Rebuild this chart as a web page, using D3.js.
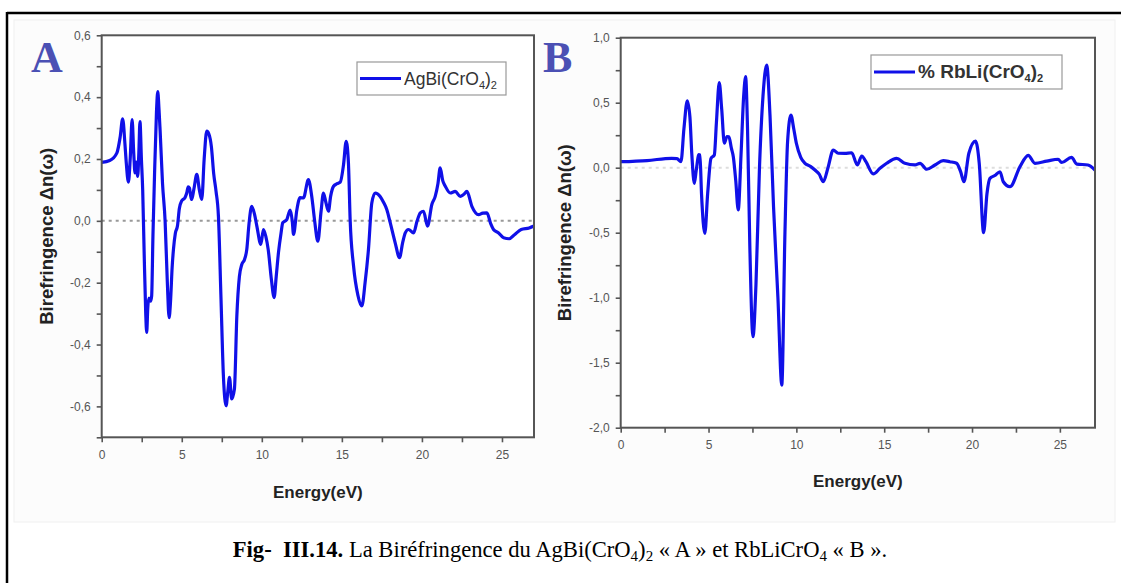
<!DOCTYPE html>
<html><head><meta charset="utf-8">
<script src="https://cdn.jsdelivr.net/npm/d3@7"></script>
<style>body{margin:0;background:#fff}svg{display:block}</style>
</head><body><svg id="c" width="1121" height="583"></svg>
<script>
// ---- data ----
const energyA = [0,0.5,0.95,1.15,1.31,1.45,1.52,1.67,1.78,1.9,2.0,2.08,2.15,2.25,2.32,2.39,2.48,2.56,2.65,2.75,2.81,2.88,2.95,3.05,3.12,3.2,3.3,3.42,3.5,3.58,3.65,3.8,3.96,4.1,4.21,4.3,4.4,4.48,4.6,4.73,4.85,5.0,5.2,5.31,5.4,5.48,5.56,5.62,5.75,5.94,6.1,6.25,6.4,6.56,6.7,6.85,7.0,7.14,7.29,7.45,7.6,7.77,7.88,7.98,8.12,8.29,8.44,8.6,8.75,8.92,9.06,9.2,9.37,9.55,9.69,9.94,10.1,10.25,10.4,10.6,10.77,10.9,11.04,11.2,11.31,11.56,11.77,11.9,11.98,12.19,12.39,12.6,12.91,13.12,13.3,13.5,13.7,13.85,14.0,14.16,14.3,14.48,14.7,14.9,15.1,15.27,15.41,15.52,15.73,16.0,16.25,16.45,16.66,16.87,17.08,17.39,17.6,17.81,18.02,18.33,18.6,18.8,18.96,19.16,19.48,19.7,19.9,20.1,20.35,20.62,20.83,21.0,21.14,21.3,21.46,21.77,22.08,22.39,22.6,22.81,23.12,23.54,23.8,24.06,24.3,24.47,24.79,25.1,25.45,25.8,26.2,26.7,27.0];
const biref_AgBiCrO4 = [0.189,0.195,0.22,0.27,0.33,0.25,0.198,0.125,0.2,0.327,0.22,0.155,0.19,0.144,0.22,0.321,0.2,0.1,-0.1,-0.3,-0.361,-0.28,-0.25,-0.26,-0.243,-0.05,0.15,0.35,0.418,0.36,0.29,0.12,0.0,-0.2,-0.313,-0.26,-0.15,-0.093,-0.04,-0.017,0.04,0.065,0.075,0.09,0.11,0.106,0.08,0.069,0.1,0.15,0.1,0.069,0.2,0.29,0.28,0.24,0.15,0.096,0.015,-0.25,-0.5,-0.598,-0.55,-0.506,-0.576,-0.544,-0.308,-0.18,-0.141,-0.125,-0.093,-0.01,0.047,0.02,-0.017,-0.076,-0.028,-0.05,-0.093,-0.19,-0.248,-0.18,-0.103,-0.04,-0.006,0.004,0.035,0.0,-0.044,0.036,0.075,0.074,0.133,0.079,0.0,-0.066,0.03,0.09,0.06,0.031,0.08,0.112,0.12,0.125,0.18,0.257,0.187,0.0,-0.146,-0.24,-0.275,-0.2,-0.093,0.058,0.09,0.079,0.06,0.036,-0.006,-0.071,-0.119,-0.07,-0.039,-0.028,-0.039,0.0,0.026,0.031,-0.017,0.053,0.079,0.12,0.171,0.13,0.112,0.09,0.095,0.079,0.085,0.095,0.047,0.02,0.025,0.026,-0.01,-0.028,-0.039,-0.055,-0.058,-0.044,-0.028,-0.023,-0.017];

const energyB = [0,1.5,2.9,3.2,3.43,3.6,3.79,3.94,4.05,4.19,4.3,4.45,4.51,4.6,4.79,4.95,5.14,5.33,5.45,5.61,5.75,5.9,6.05,6.16,6.3,6.41,6.55,6.69,6.85,7.0,7.11,7.22,7.35,7.53,7.7,7.9,8.1,8.31,8.5,8.7,8.95,9.17,9.35,9.5,9.69,9.85,10.0,10.25,10.49,10.8,11.06,11.3,11.53,11.8,12.1,12.38,12.75,13.15,13.47,13.72,13.96,14.38,14.76,15.14,15.71,16.18,16.75,17.04,17.42,17.89,18.36,18.74,19.12,19.35,19.54,19.82,20.2,20.41,20.66,20.85,21.02,21.3,21.59,21.78,22.16,22.73,23.2,23.58,24.25,24.9,25.1,25.66,25.97,26.6,27.0];
const biref_RbLiCrO4 = [0.046,0.055,0.072,0.07,0.046,0.3,0.515,0.39,0.1,-0.12,-0.02,0.1,0.098,-0.2,-0.505,-0.2,0.072,0.098,0.35,0.654,0.45,0.188,0.24,0.238,0.15,0.085,-0.1,-0.325,0.1,0.55,0.7,0.3,-0.6,-1.3,-0.9,0.0,0.55,0.79,0.4,-0.3,-1.0,-1.672,-0.5,0.2,0.405,0.3,0.188,0.08,0.034,0.01,-0.018,-0.05,-0.108,0.0,0.136,0.111,0.11,0.115,0.021,0.09,0.046,-0.048,-0.005,0.034,0.072,0.034,0.021,0.034,-0.012,0.021,0.054,0.046,0.034,-0.03,-0.108,0.111,0.205,0.034,-0.5,-0.2,-0.082,-0.06,-0.031,-0.108,-0.146,0.008,0.095,0.034,0.05,0.065,0.04,0.08,0.028,0.021,-0.018];

const xTicksMajor = [0,5,10,15,20,25];
const xTicksMinor = [2.5,7.5,12.5,17.5,22.5];
const yTicksMajorA = [-0.6,-0.4,-0.2,0.0,0.2,0.4,0.6];
const yTicksMinorA = [-0.7,-0.5,-0.3,-0.1,0.1,0.3,0.5];
const yTicksMajorB = [-2.0,-1.5,-1.0,-0.5,0.0,0.5,1.0];
const yTicksMinorB = [-1.75,-1.25,-0.75,-0.25,0.25,0.75];
const legendA = "AgBi(CrO4)2";
const legendB = "% RbLi(CrO4)2";
const xTitle = "Energy(eV)";
const yTitle = "Birefringence Δn(ω)";

// ---- drawing ----
const svg = d3.select("#c");
const lineColor = "#1010e8";
const axisColor = "#555";

// page frame
svg.append("rect").attr("x",14).attr("y",20).attr("width",1101).attr("height",502)
  .attr("fill","#fcfcfc").attr("stroke","#f0f0f0");
svg.append("line").attr("x1",7).attr("x2",1121).attr("y1",13).attr("y2",13).attr("stroke","#000").attr("stroke-width",2.5);
svg.append("line").attr("x1",7).attr("x2",7).attr("y1",12).attr("y2",583).attr("stroke","#000").attr("stroke-width",2.5);

const comma = f => v => f(v).replace(".", ",").replace("\u2212", "-");

function panel(cfg){
  const g = svg.append("g");
  const x = d3.scaleLinear().domain([0,27]).range([cfg.left, cfg.right]);
  const y = d3.scaleLinear().domain(cfg.yDomain).range([cfg.bottom, cfg.top]);
  g.append("rect").attr("x",cfg.left).attr("y",cfg.top).attr("width",cfg.right-cfg.left).attr("height",cfg.bottom-cfg.top).attr("fill","#fff");
  // zero line
  g.append("line").attr("x1",cfg.left).attr("x2",cfg.right).attr("y1",y(0)).attr("y2",y(0))
    .attr("stroke",cfg.zeroColor).attr("stroke-width",2).attr("stroke-dasharray","3,4");
  // line
  const data = cfg.xs.map((e,i)=>[e,cfg.ys[i]]);
  g.append("path").datum(data).attr("fill","none").attr("stroke",lineColor).attr("stroke-width",3.2)
    .attr("stroke-linejoin","round")
    .attr("d", d3.line().x(d=>x(d[0])).y(d=>y(d[1])).curve(d3.curveMonotoneX));
  // axes
  const xa = g.append("g").attr("transform",`translate(0,${cfg.bottom})`)
    .call(d3.axisBottom(x).tickValues(xTicksMajor.concat(xTicksMinor)).tickSize(5).tickPadding(8)
      .tickFormat(v => xTicksMajor.includes(v) ? d3.format("d")(v) : ""));
  const ya = g.append("g").attr("transform",`translate(${cfg.left},0)`)
    .call(d3.axisLeft(y).tickValues(cfg.yMajor.concat(cfg.yMinor)).tickSize(5).tickPadding(6)
      .tickFormat(v => cfg.yMajor.some(m=>Math.abs(m-v)<1e-9) ? comma(d3.format(".1f"))(v) : ""));
  [xa,ya].forEach(a=>{
    a.select(".domain").remove();
    a.selectAll("line").attr("stroke",axisColor).attr("stroke-width",1.6);
    a.selectAll("text").attr("fill","#555").style("font-family","Arial, 'Liberation Sans', sans-serif").style("font-size","12px");
  });
  // frame
  g.append("rect").attr("x",cfg.left).attr("y",cfg.top).attr("width",cfg.right-cfg.left).attr("height",cfg.bottom-cfg.top)
    .attr("fill","none").attr("stroke",axisColor).attr("stroke-width",2);
  // titles
  g.append("text").attr("x",(cfg.left+cfg.right)/2).attr("y",cfg.xTitleY).attr("text-anchor","middle")
    .style("font-family","Arial, 'Liberation Sans', sans-serif").style("font-weight","bold").style("font-size","17px").attr("fill","#222")
    .text(xTitle);
  g.append("text").attr("transform",`translate(${cfg.yTitleX},${(cfg.top+cfg.bottom)/2}) rotate(-90)`).attr("text-anchor","middle")
    .style("font-family","Arial, 'Liberation Sans', sans-serif").style("font-weight","bold").style("font-size","18.5px").attr("fill","#222")
    .text(yTitle);
  // panel letter
  g.append("text").attr("x",cfg.letterX).attr("y",72).style("font-family","'Liberation Serif', 'Times New Roman', serif")
    .style("font-size","44px").style("font-weight","bold").attr("fill","#4b50b4").text(cfg.letter);
  // legend
  const L = cfg.legend;
  g.append("rect").attr("x",L.x).attr("y",L.y).attr("width",L.w).attr("height",L.h).attr("fill","#fff").attr("stroke","#999").attr("stroke-width",1.2);
  g.append("line").attr("x1",L.x+3).attr("x2",L.x+44).attr("y1",L.y+L.h/2).attr("y2",L.y+L.h/2).attr("stroke",lineColor).attr("stroke-width",3);
  const m = L.label.match(/^(.*CrO)(\d)\)(\d)$/);
  const t = g.append("text").attr("x",L.x+47).attr("y",L.y+L.h/2+6)
    .style("font-family","Arial, 'Liberation Sans', sans-serif").style("font-size",L.size).style("font-weight",L.weight).attr("fill","#333");
  t.append("tspan").text(m[1]);
  t.append("tspan").attr("dy",4).style("font-size","11px").text(m[2]);
  t.append("tspan").attr("dy",-4).text(")");
  t.append("tspan").attr("dy",4).style("font-size","11px").text(m[3]);
}

panel({left:101.7,right:534,top:35.3,bottom:437.3,yDomain:[-0.7,0.6],xs:energyA,ys:biref_AgBiCrO4,
  yMajor:yTicksMajorA,yMinor:yTicksMinorA,zeroColor:"#999",xTitleY:498,yTitleX:53,letter:"A",letterX:31,
  legend:{x:357,y:62,w:149,h:33,label:legendA,size:"17.5px",weight:"normal"}});
panel({left:620.7,right:1095,top:37.7,bottom:427.7,yDomain:[-2.0,1.0],xs:energyB,ys:biref_RbLiCrO4,
  yMajor:yTicksMajorB,yMinor:yTicksMinorB,zeroColor:"#ddd",xTitleY:487,yTitleX:571,letter:"B",letterX:543,
  legend:{x:871,y:55,w:191,h:34,label:legendB,size:"19px",weight:"bold"}});

// caption
const cap = svg.append("text").attr("x",560).attr("y",557).attr("text-anchor","middle")
  .style("font-family","'Liberation Serif', 'Times New Roman', serif").style("font-size","22.6px").attr("fill","#000");
cap.append("tspan").style("font-weight","bold").text("Fig-\u00a0\u00a0III.14.");
cap.append("tspan").text(" La Biréfringence du AgBi(CrO");
cap.append("tspan").attr("dy",4).style("font-size","15px").text("4");
cap.append("tspan").attr("dy",-4).text(")");
cap.append("tspan").attr("dy",4).style("font-size","15px").text("2");
cap.append("tspan").attr("dy",-4).text(" « A » et RbLiCrO");
cap.append("tspan").attr("dy",4).style("font-size","15px").text("4");
cap.append("tspan").attr("dy",-4).text(" « B ».");
</script></body></html>
